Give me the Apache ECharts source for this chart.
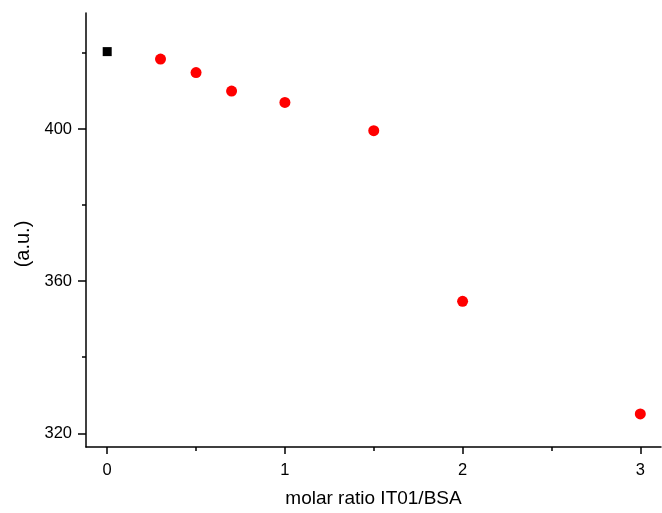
<!DOCTYPE html>
<html>
<head>
<meta charset="utf-8">
<script src="https://cdn.jsdelivr.net/npm/echarts@6/dist/echarts.min.js"></script>
<style>html,body{margin:0;padding:0;background:#fff;}#c{width:662px;height:513px;}</style>
</head>
<body>
<div id="c"></div>
<script>
// Data
const refX = [0];
const refY = [420.35];
const ratioX = [0.3, 0.5, 0.7, 1.0, 1.5, 2.0, 3.0];
const ratioY = [418.4, 414.85, 409.97, 406.98, 399.55, 354.7, 325.1];
const xMajorTicks = [0, 1, 2, 3];
const xMinorTicks = [0.5, 1.5, 2.5];
const yMajorTicks = [320, 360, 400];
const yMinorTicks = [340, 380, 420];
const xTitle = 'molar ratio IT01/BSA';
const yTitle = '(a.u.)';

const FONT = '"Liberation Sans", Arial, sans-serif';
const X_MIN = -0.1193, X_MAX = 3.1165;
const Y_MIN = 316.4, Y_MAX = 430.5;

const chart = echarts.init(document.getElementById('c'), null, {renderer: 'canvas'});
const lineStyle = {color: '#000', width: 1.5};

chart.setOption({
  animation: false,
  backgroundColor: '#fff',
  grid: {left: 86, right: 1, top: 13, bottom: 65, containLabel: false},
  xAxis: [
    {
      type: 'value', position: 'bottom', min: X_MIN, max: X_MAX,
      name: xTitle, nameLocation: 'middle', nameGap: 42,
      nameTextStyle: {fontFamily: FONT, fontSize: 19, color: '#000'},
      axisLine: {show: true, onZero: false, lineStyle: lineStyle},
      axisTick: {show: true, inside: false, length: 7, customValues: xMajorTicks, lineStyle: lineStyle},
      axisLabel: {show: true, margin: 15, customValues: xMajorTicks, fontFamily: FONT, fontSize: 16.5, color: '#000'},
      splitLine: {show: false}
    },
    {
      type: 'value', position: 'bottom', min: X_MIN, max: X_MAX,
      axisLine: {show: false, onZero: false},
      axisTick: {show: true, inside: false, length: 4, customValues: xMinorTicks, lineStyle: lineStyle},
      axisLabel: {show: false},
      splitLine: {show: false}
    }
  ],
  yAxis: [
    {
      type: 'value', position: 'left', min: Y_MIN, max: Y_MAX,
      name: yTitle, nameLocation: 'middle', nameGap: 53, nameRotate: 90,
      nameTextStyle: {fontFamily: FONT, fontSize: 20, color: '#000', padding: [0, 28, 0, 0]},
      axisLine: {show: true, onZero: false, lineStyle: lineStyle},
      axisTick: {show: true, inside: false, length: 8, customValues: yMajorTicks, lineStyle: lineStyle},
      axisLabel: {show: true, margin: 14, customValues: yMajorTicks, fontFamily: FONT, fontSize: 16.5, color: '#000'},
      splitLine: {show: false}
    },
    {
      type: 'value', position: 'left', min: Y_MIN, max: Y_MAX,
      axisLine: {show: false, onZero: false},
      axisTick: {show: true, inside: false, length: 4, customValues: yMinorTicks, lineStyle: lineStyle},
      axisLabel: {show: false},
      splitLine: {show: false}
    }
  ],
  series: [
    {
      type: 'scatter', xAxisIndex: 0, yAxisIndex: 0,
      symbol: 'rect', symbolSize: 9,
      itemStyle: {color: '#000', opacity: 1},
      data: refX.map((x, i) => [x, refY[i]])
    },
    {
      type: 'scatter', xAxisIndex: 0, yAxisIndex: 0,
      symbol: 'circle', symbolSize: 11,
      itemStyle: {color: '#ff0000', opacity: 1},
      data: ratioX.map((x, i) => [x, ratioY[i]])
    }
  ]
});
</script>
</body>
</html>
